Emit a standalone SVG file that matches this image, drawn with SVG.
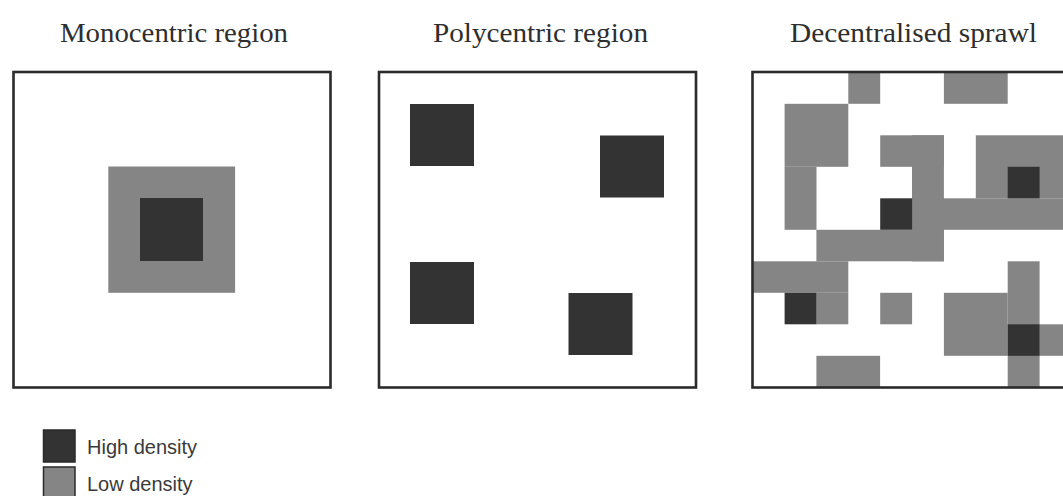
<svg xmlns="http://www.w3.org/2000/svg" width="1063" height="496" viewBox="0 0 1063 496">
<style>
.bg{fill:#ffffff}
.title{font-family:"Liberation Serif","Times New Roman",serif;font-size:27px;fill:#2e2e2e;text-anchor:middle}
.frame{fill:none;stroke:#2b2b2b;stroke-width:2.6}
.hi{fill:#333333}
.lo{fill:#858585}
.leg{font-family:"Liberation Sans",Arial,sans-serif;font-size:20px;fill:#3a3a3a}
.legbox{stroke:#2a2a2a;stroke-width:1.5}
</style>
<rect class="bg" x="0" y="0" width="1063" height="496"/>
<g id="titles">
<text class="title" x="174" y="41.5" textLength="228" lengthAdjust="spacingAndGlyphs">Monocentric region</text>
<text class="title" x="540.5" y="41.5" textLength="215" lengthAdjust="spacingAndGlyphs">Polycentric region</text>
<text class="title" x="913.5" y="41.5" textLength="247" lengthAdjust="spacingAndGlyphs">Decentralised sprawl</text>
</g>
<g id="monocentric">
<rect class="lo" x="108.3" y="166.5" width="126.8" height="126.3"/>
<rect class="hi" x="140" y="198" width="63" height="63"/>
<rect class="frame" x="13.5" y="72" width="317" height="315.5"/>
</g>
<g id="polycentric">
<rect class="hi" x="410" y="104" width="64" height="62"/>
<rect class="hi" x="600" y="135.5" width="64" height="62"/>
<rect class="hi" x="410" y="262" width="64" height="62"/>
<rect class="hi" x="568.5" y="293" width="64" height="62"/>
<rect class="frame" x="379" y="72" width="317" height="315.5"/>
</g>
<g id="sprawl">
<rect class="lo" x="848.3" y="72.3" width="31.9" height="31.5"/>
<rect class="lo" x="943.9" y="72.3" width="63.8" height="31.5"/>
<rect class="lo" x="784.6" y="103.8" width="63.7" height="63"/>
<rect class="lo" x="784.6" y="166.8" width="31.9" height="63"/>
<rect class="lo" x="880.2" y="135.3" width="63.7" height="31.5"/>
<rect class="lo" x="912" y="135.3" width="31.9" height="126"/>
<rect class="lo" x="816.4" y="229.8" width="127.5" height="31.5"/>
<rect class="lo" x="912" y="198.3" width="160" height="31.5"/>
<rect class="lo" x="975.8" y="135.3" width="96" height="63"/>
<rect class="hi" x="1007.7" y="166.8" width="31.9" height="31.5"/>
<rect class="hi" x="880.2" y="198.3" width="31.9" height="31.5"/>
<rect class="lo" x="752.7" y="261.3" width="95.6" height="31.5"/>
<rect class="lo" x="816.4" y="292.8" width="31.9" height="31.5"/>
<rect class="hi" x="784.6" y="292.8" width="31.9" height="31.5"/>
<rect class="lo" x="880.2" y="292.8" width="31.9" height="31.5"/>
<rect class="lo" x="1007.7" y="261.3" width="31.9" height="126"/>
<rect class="lo" x="943.9" y="292.8" width="63.8" height="63"/>
<rect class="lo" x="1039.5" y="324.3" width="32" height="31.5"/>
<rect class="hi" x="1007.7" y="324.3" width="31.9" height="31.5"/>
<rect class="lo" x="816.4" y="355.8" width="63.7" height="31.5"/>
<rect class="frame" x="752.5" y="72" width="320" height="315.5"/>
</g>
<g id="legend">
<rect class="hi legbox" x="43.5" y="430" width="31.5" height="32"/>
<text class="leg" x="87" y="454">High density</text>
<rect class="lo legbox" x="43.5" y="467" width="31.5" height="32"/>
<text class="leg" x="87" y="491">Low density</text>
</g>
</svg>
